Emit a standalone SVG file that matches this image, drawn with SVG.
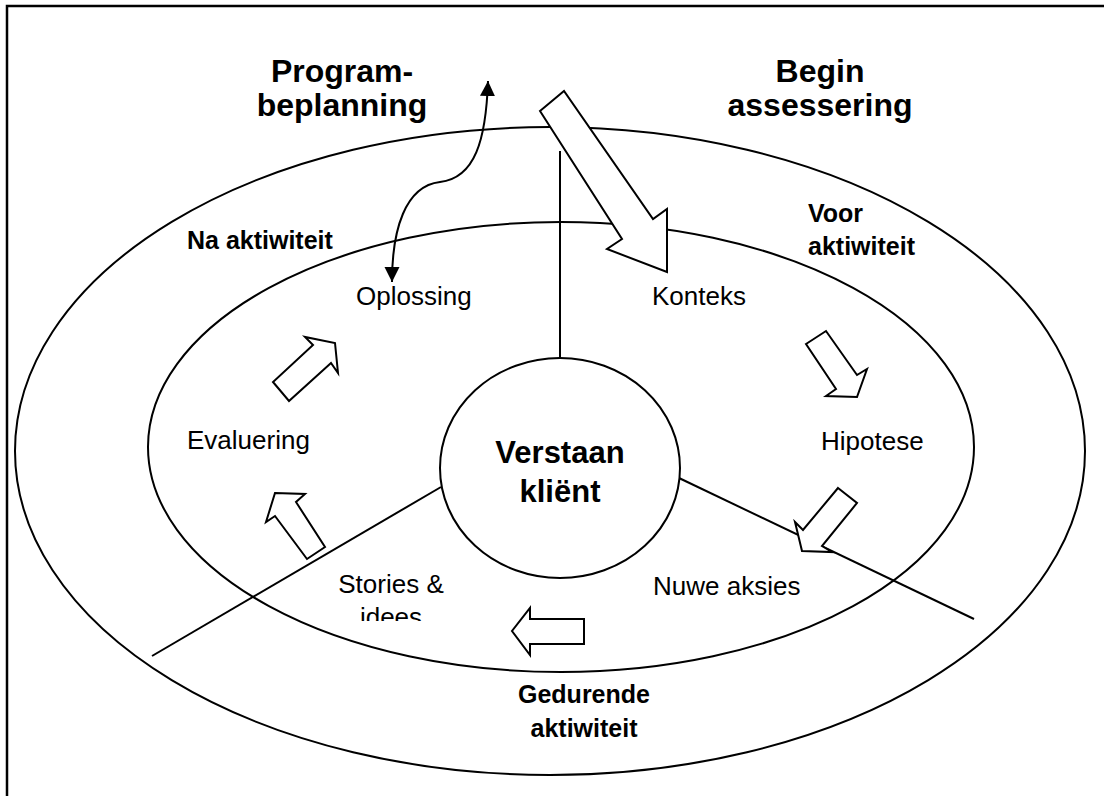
<svg xmlns="http://www.w3.org/2000/svg" width="1104" height="796" viewBox="0 0 1104 796">
  <style>
    .ring { fill: none; stroke: #000; stroke-width: 2; }
    .hub { fill: #fff; stroke: #000; stroke-width: 2; }
    .line { fill: none; stroke: #000; stroke-width: 2; }
    .block { fill: #fff; stroke: #000; stroke-width: 2; stroke-linejoin: miter; }
    .head { font-family: "Liberation Sans", Arial, sans-serif; font-weight: bold; font-size: 32px; fill: #000; text-anchor: middle; }
    .hubtext { font-family: "Liberation Sans", Arial, sans-serif; font-weight: bold; font-size: 31px; fill: #000; text-anchor: middle; }
    .phase { font-family: "Liberation Sans", Arial, sans-serif; font-weight: bold; font-size: 25px; fill: #000; }
    .step { font-family: "Liberation Sans", Arial, sans-serif; font-size: 26px; fill: #000; }
  </style>
  <defs>
    <marker id="tip" viewBox="0 0 10 10" refX="10" refY="5" markerUnits="userSpaceOnUse" markerWidth="15" markerHeight="16" orient="auto-start-reverse">
      <path d="M0,0 L10,5 L0,10 z" fill="#000"/>
    </marker>
    <clipPath id="storiesClip">
      <rect x="300" y="560" width="200" height="61"/>
    </clipPath>
  </defs>

  <rect width="1104" height="796" fill="#fff"/>
  <!-- page frame -->
  <rect x="7" y="6" width="1200" height="900" fill="none" stroke="#000" stroke-width="2.5"/>

  <g id="outer-ring"><ellipse class="ring" cx="550" cy="451" rx="535" ry="324"/></g>
  <g id="inner-ring"><ellipse class="ring" cx="561" cy="447" rx="413" ry="225"/></g>

  <g id="connectors">
    <!-- sector dividers -->
    <line class="line" x1="560" y1="151" x2="560" y2="358"/>
    <line class="line" x1="441" y1="487" x2="152" y2="656"/>
    <line class="line" x1="679" y1="478" x2="974" y2="619"/>
    <!-- two-way link to planning -->
    <path class="line" d="M392 282 C392 230 405 186 440 182 C475 178 486 140 488 81" marker-start="url(#tip)" marker-end="url(#tip)"/>
    <!-- entry arrow -->
    <polygon class="block" points="540,111 564,91 653,219 667,209 667,272 607,249 622,239"/>
    <!-- cycle arrows -->
    <polygon class="block" points="806,344 826,331 857,375 867,369 857,397 826,396 836,389"/>
    <polygon class="block" points="838,488 857,503 822,546 832,552 802,551 795,522 803,530"/>
    <polygon class="block" points="584,619 584,644 530,644 530,655 512,631 530,608 530,619"/>
    <polygon class="block" points="275,493 305,494 296,502 325,547 307,559 275,516 266,522"/>
    <polygon class="block" points="273,382 289,401 331,363 338,373 335,343 305,337 313,345"/>
  </g>

  <g id="hub">
    <ellipse class="hub" cx="560" cy="468" rx="120" ry="110"/>
    <text class="hubtext" x="560" y="463">Verstaan</text>
    <text class="hubtext" x="560" y="502">kliënt</text>
  </g>

  <g id="program-beplanning">
    <text class="head" x="342" y="82">Program-</text>
    <text class="head" x="342" y="116">beplanning</text>
  </g>
  <g id="begin-assessering">
    <text class="head" x="820" y="82">Begin</text>
    <text class="head" x="820" y="116">assessering</text>
  </g>

  <g id="na-aktiwiteit"><text class="phase" x="187" y="249">Na aktiwiteit</text></g>
  <g id="voor-aktiwiteit">
    <text class="phase" x="808" y="222">Voor</text>
    <text class="phase" x="808" y="255">aktiwiteit</text>
  </g>
  <g id="gedurende-aktiwiteit">
    <text class="phase" x="584" y="703" text-anchor="middle">Gedurende</text>
    <text class="phase" x="584" y="737" text-anchor="middle">aktiwiteit</text>
  </g>

  <g id="oplossing"><text class="step" x="356" y="305">Oplossing</text></g>
  <g id="konteks"><text class="step" x="652" y="305">Konteks</text></g>
  <g id="evaluering"><text class="step" x="187" y="449">Evaluering</text></g>
  <g id="hipotese"><text class="step" x="821" y="450">Hipotese</text></g>
  <g id="nuwe-aksies"><text class="step" x="653" y="595">Nuwe aksies</text></g>
  <g id="stories-idees" clip-path="url(#storiesClip)">
    <text class="step" x="391" y="593" text-anchor="middle">Stories &amp;</text>
    <text class="step" x="391" y="626" text-anchor="middle">idees</text>
  </g>
</svg>
